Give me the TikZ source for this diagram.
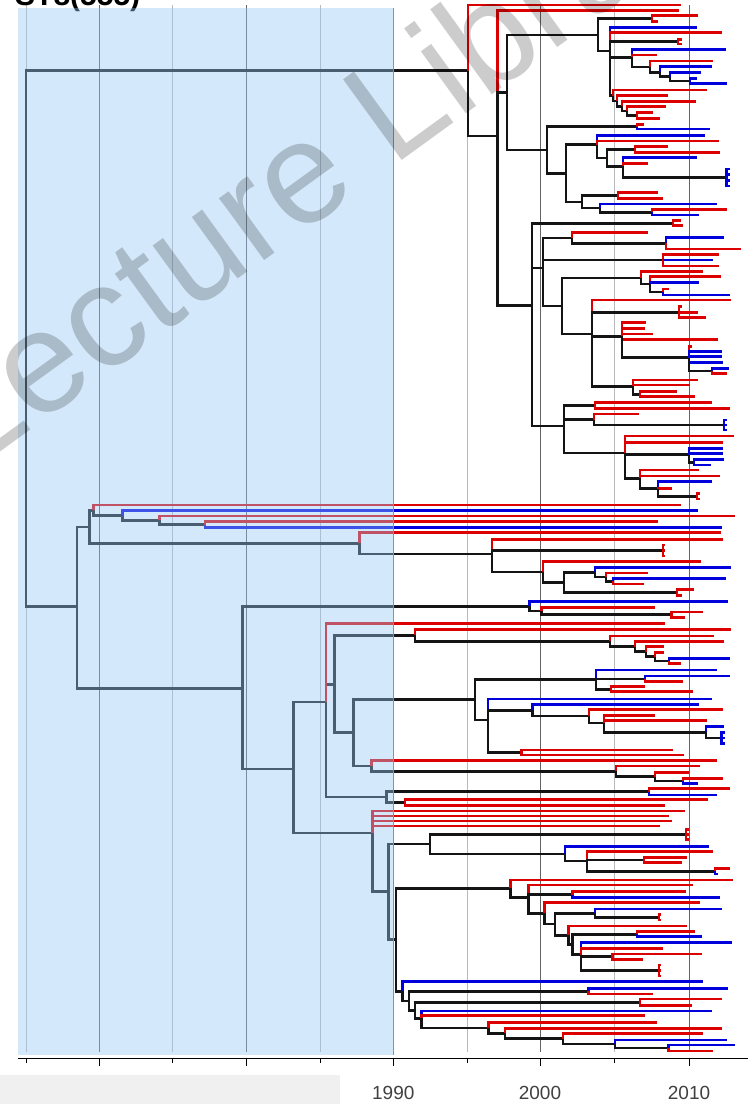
\documentclass[tikz,border=0pt]{standalone}
\usepackage{fontspec}
\setmainfont{Liberation Sans}
\definecolor{tred}{RGB}{221,0,0}
\definecolor{tblue}{RGB}{0,0,221}
\definecolor{tblk}{RGB}{20,20,20}
\definecolor{shadeblue}{RGB}{149,200,244}
\definecolor{gridd}{RGB}{100,100,100}
\definecolor{gridl}{RGB}{185,185,185}
\definecolor{boxgray}{RGB}{240,240,240}
\tikzset{
  brk/.style={draw=tblk, line width=2.6pt},
  brr/.style={draw=tred, line width=2.6pt},
  brb/.style={draw=tblue, line width=2.6pt},
  griddark/.style={draw=gridd, line width=0.9pt},
  gridlight/.style={draw=gridl, line width=0.9pt},
  ticklab/.style={font=\fontsize{19}{19}\selectfont, text=black!75, anchor=center, inner sep=0pt},
}
\newcommand\phN[3]{\coordinate (#1) at (#2,#3);}
\newcommand\phK[2]{\draw[brk] (#1) |- (#2);}
\newcommand\phR[3]{\draw[brr] (#1) |- (#2,#3);}
\newcommand\phB[3]{\draw[brb] (#1) |- (#2,#3);}
\begin{document}
\begin{tikzpicture}[x=1pt,y=-1pt]
\useasboundingbox (0,0) rectangle (748,1104);
\begin{scope}
\clip (0,0) rectangle (748,1104);
% grid
\foreach \gx in {26,172,320,467,614} {\draw[gridlight] (\gx,5) -- (\gx,1052);}
\foreach \gx in {99,246,540,689} {\draw[griddark] (\gx,5) -- (\gx,1052);}
% title (cut at top)
\node[anchor=base west, inner sep=0pt, font=\bfseries\fontsize{30}{30}\selectfont] (title) at (15,5) {ST8(555)};
% ---------- internal nodes ----------
\phN{root}{26}{338.7}
\phN{A}{468}{70.7}
\phN{B}{497.3}{136}
\phN{C}{507}{92.4}
\phN{D}{532}{305.7}
\phN{E}{598}{34.8}
\phN{F}{652}{18.7}
\phN{G}{610}{51}
\phN{H}{678}{41.7}
\phN{I}{632}{57.3}
\phN{J}{650}{66.8}
\phN{K}{660}{72.2}
\phN{Lq}{670}{76.5}
\phN{M}{690}{80.8}
\phN{N}{613}{95.5}
\phN{Na}{617}{101}
\phN{Nb}{622}{106.2}
\phN{Nc}{627}{111.1}
\phN{Nd}{637}{115.5}
\phN{O}{547}{150}
\phN{P}{637}{126.7}
\phN{Q}{566}{173.3}
\phN{R}{597}{144.7}
\phN{S}{607}{157.9}
\phN{T}{635}{149.5}
\phN{U}{623}{166.2}
\phN{V}{726.7}{177.5}
\phN{W}{582}{201.8}
\phN{X}{618}{195.5}
\phN{Y}{600}{208.1}
\phN{Z}{652}{212.2}
\phN{Da}{673}{223.2}
\phN{Db}{543}{268}
\phN{Dc}{564}{425.9}
\phN{Dba}{572}{237.8}
\phN{Dbb}{666}{243.3}
\phN{Dbc}{663}{260}
\phN{Dbd}{562}{306}
\phN{Dbe}{641}{277.8}
\phN{Dbf}{650}{283.8}
\phN{Dbg}{663}{292}
\phN{Dbh}{592}{333.8}
\phN{Dbi}{679}{312.2}
\phN{Dbj}{622}{336.4}
\phN{Dbk}{689}{357.7}
\phN{Dbl}{712}{370.8}
\phN{Dbm}{633}{386.4}
\phN{Dbn}{640}{394.2}
\phN{Dca}{595}{405.5}
\phN{Dcb}{594}{419.5}
\phN{Dcc}{724}{425}
\phN{Dcd}{625}{452.8}
\phN{Dce}{689}{454.6}
\phN{Dcf}{694}{462.2}
\phN{Dcg}{640}{478.2}
\phN{Dch}{658}{488.7}
\phN{Dci}{697}{496.2}
\phN{AA}{77}{606.7}
\phN{BB}{89.3}{526.8}
\phN{CC}{93.3}{510.3}
\phN{DD}{122.7}{515.6}
\phN{EE}{159.3}{520.3}
\phN{FF}{205}{524.5}
\phN{GG}{359.3}{543.3}
\phN{HH}{492}{554}
\phN{HHa}{663}{550.5}
\phN{II}{543}{572}
\phN{JJ}{564}{582.4}
\phN{JJa}{595}{572.2}
\phN{JJb}{606}{577.1}
\phN{JJc}{613}{581.3}
\phN{JJd}{677}{592.5}
\phN{KK}{242.7}{688.3}
\phN{LL}{529.3}{606.3}
\phN{LLa}{541.7}{611}
\phN{LLb}{671.7}{614.7}
\phN{MM}{293.3}{769}
\phN{NN}{326}{702}
\phN{OO}{334.3}{684.3}
\phN{PP}{415}{635.3}
\phN{Pa}{610}{641.3}
\phN{Pb}{635}{646.7}
\phN{Pc}{646}{651.7}
\phN{Pd}{655}{656.7}
\phN{Pe}{669}{660.8}
\phN{QQ}{353.3}{732.7}
\phN{RR}{475}{699.3}
\phN{Ra}{596}{679.3}
\phN{Rb}{645}{678.8}
\phN{Rc}{611}{689.2}
\phN{SS}{488}{720}
\phN{Sa}{532.7}{710.2}
\phN{Sc}{589}{716}
\phN{Sd}{604}{722.9}
\phN{Se}{706}{732.3}
\phN{Sf}{721.7}{738}
\phN{Sb}{521.7}{752.5}
\phN{TT}{371.7}{766}
\phN{Ta}{616}{771.4}
\phN{Tb}{655}{776.7}
\phN{Tc}{683}{780.8}
\phN{UU}{386.7}{797}
\phN{Ua}{649}{791.7}
\phN{Ub}{405}{802.5}
\phN{VV}{372.7}{833}
\phN{WW}{388.3}{891.7}
\phN{YY}{430}{843.8}
\phN{Ya}{686}{834.5}
\phN{Yb}{565}{853.8}
\phN{Yc}{587}{860.9}
\phN{Yd}{644}{860}
\phN{Ye}{715}{871.2}
\phN{XX}{396}{939.5}
\phN{ZZ}{510.7}{888.3}
\phN{Za}{528.3}{897.6}
\phN{Zb}{572.7}{894.5}
\phN{Zc}{544.3}{913.3}
\phN{Zd}{555}{924}
\phN{Ze}{595}{913.2}
\phN{Zg}{659}{917.3}
\phN{Zf}{568.3}{935.2}
\phN{Zi}{572.7}{944.5}
\phN{Zh}{637}{934.2}
\phN{Zj}{581}{954.5}
\phN{Zk}{612.7}{956.7}
\phN{Zl}{659}{970.5}
\phN{ABa}{402.7}{991.4}
\phN{ABb}{409}{1001}
\phN{ABc}{415}{1010.5}
\phN{ABd}{421.7}{1018.3}
\phN{Qa}{588.3}{991.2}
\phN{Qb}{640}{1002.4}
\phN{Qc}{488.3}{1028}
\phN{Qd}{505}{1033.3}
\phN{Qe}{563}{1038.5}
\phN{Qf}{615}{1043.8}
\phN{Qg}{668.3}{1048}
% ---------- top clade ----------
\phK{root}{A}\phK{root}{AA}
\phR{A}{681}{5}\phK{A}{B}
\phR{B}{679}{10.7}\phK{B}{C}\phK{B}{D}
\phK{C}{E}\phK{C}{O}
\phK{E}{F}\phK{E}{G}
\phR{F}{698}{15.7}\phR{F}{658}{21.7}
\phB{G}{697}{27.3}\phR{G}{722}{32.7}\phK{G}{H}\phK{G}{I}\phK{G}{N}
\phR{H}{682}{39.3}\phR{H}{682}{44}
\phB{I}{726}{49.3}\phR{I}{657}{55}\phK{I}{J}
\phR{J}{713}{61}\phK{J}{K}
\phB{K}{712}{66.7}\phK{K}{Lq}
\phB{Lq}{701}{72.3}\phK{Lq}{M}
\phB{M}{697}{78.3}\phB{M}{727}{83.3}
\phR{N}{707}{90}\phK{N}{Na}
\phR{Na}{668}{95.7}\phK{Na}{Nb}
\phR{Nb}{696}{101.3}\phK{Nb}{Nc}
\phR{Nc}{666}{106.7}\phK{Nc}{Nd}
\phR{Nd}{653}{112.7}\phR{Nd}{660}{118.3}
\phK{O}{P}\phK{O}{Q}
\phR{P}{644}{124.3}\phB{P}{710}{129}
\phK{Q}{R}\phK{Q}{W}
\phB{R}{705}{135.3}\phR{R}{719}{141}\phK{R}{S}
\phK{S}{T}\phK{S}{U}
\phR{T}{668}{146.7}\phR{T}{720}{152.3}
\phB{U}{697}{157.7}\phR{U}{648}{163.3}\phK{U}{V}
\phB{V}{730}{169}\phB{V}{730}{174.7}\phB{V}{730}{180.3}\phB{V}{730}{186}
\phK{W}{X}\phK{W}{Y}
\phR{X}{658}{192.7}\phR{X}{663}{198.3}
\phB{Y}{717}{204}\phK{Y}{Z}
\phR{Z}{727}{209.3}\phB{Z}{699}{215}
\phK{D}{Da}\phK{D}{Db}\phK{D}{Dc}
\phR{Da}{681}{220.7}\phR{Da}{683}{225.7}
\phK{Db}{Dba}\phK{Db}{Dbc}\phK{Db}{Dbd}
\phR{Dba}{648}{232.3}\phK{Dba}{Dbb}
\phB{Dbb}{724}{237.7}\phR{Dbb}{741}{249}
\phR{Dbc}{719}{254.3}\phB{Dbc}{713}{260}\phR{Dbc}{719}{266}
\phK{Dbd}{Dbe}\phK{Dbd}{Dbh}
\phR{Dbe}{703}{271.7}\phK{Dbe}{Dbf}
\phR{Dbf}{721}{276.7}\phB{Dbf}{699}{282.7}\phK{Dbf}{Dbg}
\phR{Dbg}{669}{289}\phB{Dbg}{730}{295}
\phR{Dbh}{731}{300}\phK{Dbh}{Dbi}\phK{Dbh}{Dbj}\phK{Dbh}{Dbm}
\phR{Dbi}{682}{306.7}\phR{Dbi}{698}{312.3}\phR{Dbi}{706}{317.3}
\phR{Dbj}{646}{322.7}\phR{Dbj}{645}{328.3}\phR{Dbj}{653}{334}\phR{Dbj}{718}{339.3}\phK{Dbj}{Dbk}
\phR{Dbk}{692}{346.7}\phB{Dbk}{722}{351.7}\phB{Dbk}{722}{356.7}\phB{Dbk}{723}{362.7}\phK{Dbk}{Dbl}
\phB{Dbl}{729}{368.3}\phR{Dbl}{727}{373.3}
\phR{Dbm}{698}{380}\phR{Dbm}{690}{385}\phK{Dbm}{Dbn}
\phR{Dbn}{677}{391.7}\phR{Dbn}{695}{396.7}
\phK{Dc}{Dca}\phK{Dc}{Dcb}\phK{Dc}{Dcd}
\phR{Dca}{712}{402.7}\phR{Dca}{730}{408.3}
\phR{Dcb}{639}{414}\phK{Dcb}{Dcc}
\phB{Dcc}{727}{420}\phB{Dcc}{727}{425}\phB{Dcc}{727}{430}
\phR{Dcd}{734}{436}\phR{Dcd}{723}{442.7}\phK{Dcd}{Dce}\phK{Dcd}{Dcg}
\phB{Dce}{723}{448.3}\phB{Dce}{723}{453.3}\phK{Dce}{Dcf}
\phB{Dcf}{724}{459.3}\phB{Dcf}{711}{465}
\phR{Dcg}{699}{470}\phR{Dcg}{720}{476}\phK{Dcg}{Dch}
\phB{Dch}{712}{481.7}\phR{Dch}{672}{488.3}\phK{Dch}{Dci}
\phR{Dci}{700}{493.5}\phR{Dci}{700}{499}
% ---------- bottom clade ----------
\phK{AA}{BB}\phK{AA}{KK}
\phK{BB}{CC}\phK{BB}{GG}
\phR{CC}{681}{505}\phK{CC}{DD}
\phB{DD}{698}{510.7}\phK{DD}{EE}
\phR{EE}{735}{516}\phK{EE}{FF}
\phR{FF}{658}{521.7}\phB{FF}{722}{527.3}
\phR{GG}{721}{532.7}\phK{GG}{HH}
\phR{HH}{723}{539.3}\phK{HH}{HHa}\phK{HH}{II}
\phR{HHa}{665}{545}\phR{HHa}{665}{550.5}\phR{HHa}{665}{556}
\phR{II}{701}{561.7}\phK{II}{JJ}
\phK{JJ}{JJa}\phK{JJ}{JJd}
\phB{JJa}{731}{567.3}\phK{JJa}{JJb}
\phR{JJb}{648}{572.9}\phK{JJb}{JJc}
\phB{JJc}{726}{578.5}\phR{JJc}{644}{584.1}
\phR{JJd}{694}{589.7}\phR{JJd}{682}{595.3}
\phK{KK}{LL}\phK{KK}{MM}
\phB{LL}{728}{601.7}\phK{LL}{LLa}
\phR{LLa}{655}{607.3}\phK{LLa}{LLb}
\phR{LLb}{703}{612}\phR{LLb}{685}{617.3}
\phK{MM}{NN}\phK{MM}{VV}
\phK{NN}{OO}\phK{NN}{UU}\phR{NN}{665}{623.3}
\phK{OO}{PP}\phK{OO}{QQ}
\phR{PP}{731}{629.3}\phK{PP}{Pa}
\phR{Pa}{714}{636}\phK{Pa}{Pb}
\phR{Pb}{724}{641.7}\phK{Pb}{Pc}
\phR{Pc}{664}{646.7}\phK{Pc}{Pd}
\phR{Pd}{664}{652.7}\phK{Pd}{Pe}
\phB{Pe}{730}{658.3}\phR{Pe}{681}{663.3}
\phK{QQ}{RR}\phK{QQ}{TT}
\phK{RR}{Ra}\phK{RR}{SS}
\phB{Ra}{717}{670}\phK{Ra}{Rb}\phK{Ra}{Rc}
\phB{Rb}{730}{676}\phR{Rb}{683}{681.7}
\phR{Rc}{645}{686.7}\phR{Rc}{693}{691.7}
\phB{SS}{712}{699}\phK{SS}{Sa}\phK{SS}{Sb}
\phB{Sa}{699}{704.3}\phK{Sa}{Sc}
\phR{Sc}{723}{709.3}\phK{Sc}{Sd}
\phR{Sd}{655}{715.7}\phR{Sd}{707}{720.7}\phK{Sd}{Se}
\phB{Se}{724}{726.7}\phK{Se}{Sf}
\phB{Sf}{725}{732.7}\phB{Sf}{725}{738}\phB{Sf}{725}{743.3}
\phR{Sb}{673}{750}\phR{Sb}{684}{755}
\phR{TT}{717}{760.7}\phK{TT}{Ta}
\phR{Ta}{700}{766}\phK{Ta}{Tb}
\phR{Tb}{689}{772.7}\phK{Tb}{Tc}
\phR{Tc}{723}{778.3}\phB{Tc}{698}{783.3}
\phK{UU}{Ua}\phK{UU}{Ub}
\phR{Ua}{730}{788.3}\phB{Ua}{717}{795}
\phR{Ub}{708}{799.5}\phR{Ub}{665}{805.5}
\phR{VV}{685}{811}\phR{VV}{669}{816}\phR{VV}{672}{821}\phR{VV}{660}{826}\phK{VV}{WW}
\phK{WW}{YY}\phK{WW}{XX}
\phK{YY}{Ya}\phK{YY}{Yb}
\phR{Ya}{689}{829.5}\phR{Ya}{689}{834.5}\phR{Ya}{689}{839.5}
\phB{Yb}{709}{846.7}\phK{Yb}{Yc}
\phR{Yc}{713}{851.7}\phK{Yc}{Yd}\phK{Yc}{Ye}
\phR{Yd}{687}{857.3}\phR{Yd}{682}{862.7}
\phR{Ye}{730}{868.3}\phB{Ye}{718}{874}
\phK{XX}{ZZ}\phK{XX}{ABa}
\phR{ZZ}{733}{880}\phK{ZZ}{Za}
\phR{Za}{693}{885}\phK{Za}{Zb}\phK{Za}{Zc}
\phR{Zb}{686}{891.7}\phB{Zb}{720}{897.3}
\phR{Zc}{700}{902.7}\phK{Zc}{Zd}
\phK{Zd}{Ze}\phK{Zd}{Zf}
\phB{Ze}{722}{909}\phK{Ze}{Zg}
\phR{Zg}{661}{914.5}\phR{Zg}{661}{920}
\phR{Zf}{687}{926}\phK{Zf}{Zi}
\phK{Zi}{Zh}\phK{Zi}{Zj}
\phR{Zh}{695}{931.7}\phB{Zh}{702}{936.7}
\phB{Zj}{732}{942.7}\phR{Zj}{663}{948.3}\phK{Zj}{Zk}\phK{Zj}{Zl}
\phR{Zk}{702}{954}\phR{Zk}{643}{959.3}
\phR{Zl}{661}{965}\phR{Zl}{661}{970.5}\phR{Zl}{661}{976}
\phB{ABa}{703}{981.7}\phK{ABa}{ABb}
\phK{ABb}{Qa}\phK{ABb}{ABc}
\phB{Qa}{728}{988.3}\phR{Qa}{653}{994}
\phK{ABc}{Qb}\phK{ABc}{ABd}
\phR{Qb}{722}{999}\phR{Qb}{692}{1005.7}
\phB{ABd}{712}{1011}\phR{ABd}{645}{1015.7}\phK{ABd}{Qc}
\phR{Qc}{657}{1022.7}\phK{Qc}{Qd}
\phR{Qd}{722}{1028.3}\phK{Qd}{Qe}
\phR{Qe}{703}{1033.3}\phK{Qe}{Qf}
\phB{Qf}{727}{1040}\phK{Qf}{Qg}
\phB{Qg}{735}{1045}\phR{Qg}{713}{1051}
% ---------- shaded period overlay ----------
\fill[shadeblue, opacity=0.41] (18.3,8.3) rectangle (393.3,1055);
\draw[draw={rgb,255:red,120;green,150;blue,185}, line width=1pt] (393.3,8.3) -- (393.3,1055);
% ---------- axis ----------
\draw[black, line width=1.6pt] (18,1058.5) -- (748,1058.5);
\foreach \tx in {26,172,320,467,614} {\draw[black, line width=1pt] (\tx,1058.5) -- (\tx,1063);}
\foreach \tx in {99,246,393.3,540,689} {\draw[black, line width=1pt] (\tx,1058.5) -- (\tx,1066);}
\fill[boxgray] (0,1075) rectangle (340,1104);
\node[ticklab] (y1990) at (393.3,1093) {1990};
\node[ticklab] (y2000) at (540,1093) {2000};
\node[ticklab] (y2010) at (689,1093) {2010};
% ---------- watermark ----------
\node[anchor=base west, inner sep=0pt, rotate=36, text=black, opacity=0.2,
      font=\fontsize{145}{145}\selectfont] (wm) at (-31,475) {Lecture Library};
\end{scope}
\end{tikzpicture}
\end{document}
